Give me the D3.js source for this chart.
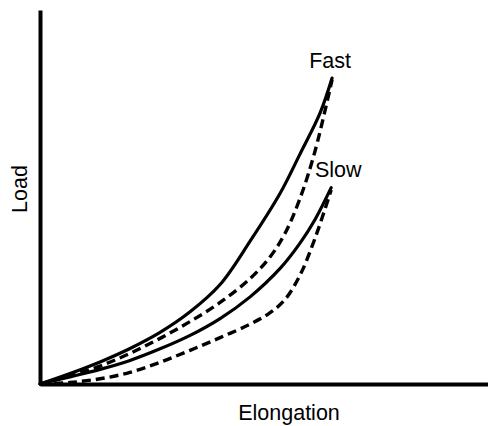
<!DOCTYPE html>
<html>
<head>
<meta charset="utf-8">
<script src="https://cdn.jsdelivr.net/npm/d3@7"></script>
<style>
  html, body { margin: 0; padding: 0; background: #fff; }
  svg { display: block; }
  text { font-family: "Liberation Sans", Arial, Helvetica, sans-serif; fill: #000; }
</style>
</head>
<body>
<script>
// Load–elongation hysteresis loops at two loading rates (arbitrary units)
const fastLoadX   = [0, 6.7, 13.4, 20.1, 26.8, 33.5, 40.2, 46.9, 53.6, 58.0, 62.5, 65.2];
const fastLoadY   = [0, 2.8, 5.9, 9.5, 13.8, 19.3, 26.6, 38.2, 51.0, 61.4, 72.4, 81.8];
const fastUnloadX = [0, 6.7, 13.4, 20.1, 26.8, 33.5, 40.2, 46.9, 51.3, 54.7, 58.0, 61.4, 65.2];
const fastUnloadY = [0, 2.2, 4.8, 8.2, 12.2, 16.7, 21.8, 28.2, 33.9, 40.3, 49.5, 62.3, 81.4];
const slowLoadX   = [0, 6.7, 13.4, 20.1, 26.8, 33.5, 40.2, 46.9, 53.6, 58.0, 61.4, 65.0];
const slowLoadY   = [0, 1.9, 3.9, 6.3, 9.4, 13.0, 17.5, 23.3, 30.9, 37.6, 44.0, 52.5];
const slowUnloadX = [0, 6.7, 13.4, 20.1, 26.8, 33.5, 40.2, 46.9, 51.3, 54.7, 58.0, 61.4, 65.0];
const slowUnloadY = [0, 0.4, 1.4, 3.1, 5.8, 9.0, 12.4, 16.0, 19.0, 22.6, 29.0, 39.0, 51.9];

const seriesLabels = ["Fast", "Slow"];
const xTitle = "Elongation";
const yTitle = "Load";

const W = 488, H = 426;
const svg = d3.select("body").append("svg").attr("width", W).attr("height", H);

const x = d3.scaleLinear().domain([0, 100]).range([40, 488]);
const y = d3.scaleLinear().domain([0, 100]).range([384, 10]);

const zip = (xs, ys) => xs.map((v, i) => [v, ys[i]]);
const line = d3.line().x(d => x(d[0])).y(d => y(d[1])).curve(d3.curveCatmullRom.alpha(0.5));

const curves = [
  { pts: zip(fastLoadX, fastLoadY), dashed: false },
  { pts: zip(fastUnloadX, fastUnloadY), dashed: true },
  { pts: zip(slowLoadX, slowLoadY), dashed: false },
  { pts: zip(slowUnloadX, slowUnloadY), dashed: true }
];

svg.append("g").selectAll("path").data(curves).join("path")
  .attr("d", d => line(d.pts))
  .attr("fill", "none")
  .attr("stroke", "#000")
  .attr("stroke-width", d => d.dashed ? 3.4 : 3.2)
  .attr("stroke-dasharray", d => d.dashed ? "9,5" : null)
  .attr("stroke-linecap", d => d.dashed ? "butt" : "round");

// Axes: bare lines without ticks
const xAxis = d3.axisBottom(x).tickValues([]).tickSizeOuter(0);
const yAxis = d3.axisLeft(y).tickValues([]).tickSizeOuter(0);
svg.append("g").attr("transform", `translate(0,${y(0)})`).call(xAxis)
  .select(".domain").attr("stroke", "#000").attr("stroke-width", 4);
svg.append("g").attr("transform", `translate(${x(0)},0)`).call(yAxis)
  .select(".domain").attr("stroke", "#000").attr("stroke-width", 4);

// Series labels at the loop tips
const fs = 21.5;
svg.append("text").attr("x", x(fastLoadX[fastLoadX.length - 1]) - 2).attr("y", 68)
  .attr("text-anchor", "middle").attr("font-size", fs).text(seriesLabels[0]);
svg.append("text").attr("x", x(slowLoadX[slowLoadX.length - 1]) + 7).attr("y", 177)
  .attr("text-anchor", "middle").attr("font-size", fs).text(seriesLabels[1]);

// Axis titles
svg.append("text").attr("x", 289).attr("y", 420)
  .attr("text-anchor", "middle").attr("font-size", fs).text(xTitle);
svg.append("text").attr("transform", "translate(27,189) rotate(-90)")
  .attr("text-anchor", "middle").attr("font-size", fs).text(yTitle);
</script>
</body>
</html>
